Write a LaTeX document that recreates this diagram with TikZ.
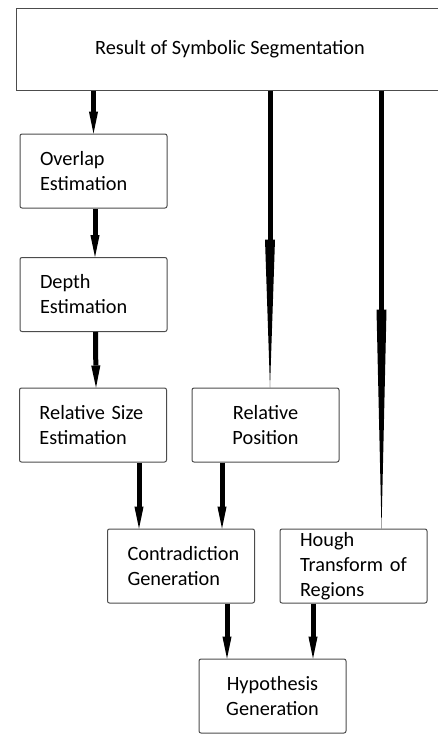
\documentclass[tikz,border=0pt]{standalone}
\usepackage{fontspec}
\setmainfont{Carlito}
\usetikzlibrary{arrows.meta}

\begin{document}
\begin{tikzpicture}[x=0.5pt, y=-0.5pt,
  cbox/.style={draw=black!70, line width=0.5pt, rounded corners=1pt, inner sep=0pt,
    minimum width=73.5pt, minimum height=37pt, align=center,
    font=\fontsize{10.15}{12.5}\selectfont},
  lbox/.style={cbox, inner xsep=10pt, text width=53.5pt, align=left},
  arr/.style={line width=2.5pt, -{Triangle[length=11pt, width=4.6pt, line width=0pt 0]}}]
\useasboundingbox (0,0) rectangle (438,734);

% Boxes
\node[cbox, rounded corners=0pt, minimum width=214pt, minimum height=41pt] (result) at (230,49) {Result of Symbolic Segmentation};
\node[lbox] (overlap) at (93.5,171) {Overlap\\Estimation};
\node[lbox] (depth) at (93.5,294.5) {Depth\\Estimation};
\node[lbox] (relsize) at (93,425) {Relative Size\\Estimation};
\node[cbox] (relpos) at (265.5,425) {Relative\\Position};
\node[lbox] (contra) at (181,566) {Contradiction\\Generation};
\node[lbox] (hough) at (353.5,566) {Hough\\Transform~of\\Regions};
\node[cbox] (hypo) at (272.5,696) {Hypothesis\\Generation};

% Arrow ends
\coordinate (relpos in) at ([xshift=2.25pt]relpos.north);
\coordinate (hough in) at ([xshift=14pt]hough.north);
\coordinate (contra in1) at ([xshift=-21pt]contra.north);
\coordinate (contra in2) at ([xshift=20.5pt]contra.north);
\coordinate (hypo in1) at ([xshift=-22.75pt]hypo.north);
\coordinate (hypo in2) at ([xshift=20.25pt]hypo.north);

% Arrows
\draw[arr] (result.south -| overlap) -- (overlap);
\draw[arr] ([xshift=0.75pt]overlap.south) -- ([xshift=0.75pt]depth.north);
\draw[arr] ([xshift=1pt]depth.south) -- ([xshift=1.5pt]relsize.north);
\draw[arr, -{Triangle[length=74pt, width=5pt, line width=0pt 0]}] (result.south -| relpos in) -- (relpos in);
\draw[arr, -{Triangle[length=109.5pt, width=5pt, line width=0pt 0]}] (result.south -| hough in) -- (hough in);
\draw[arr] (relsize.south -| contra in1) -- (contra in1);
\draw[arr] (relpos.south -| contra in2) -- (contra in2);
\draw[arr] (contra.south -| hypo in1) -- (hypo in1);
\draw[arr] (hough.south -| hypo in2) -- (hypo in2);
\end{tikzpicture}
\end{document}
